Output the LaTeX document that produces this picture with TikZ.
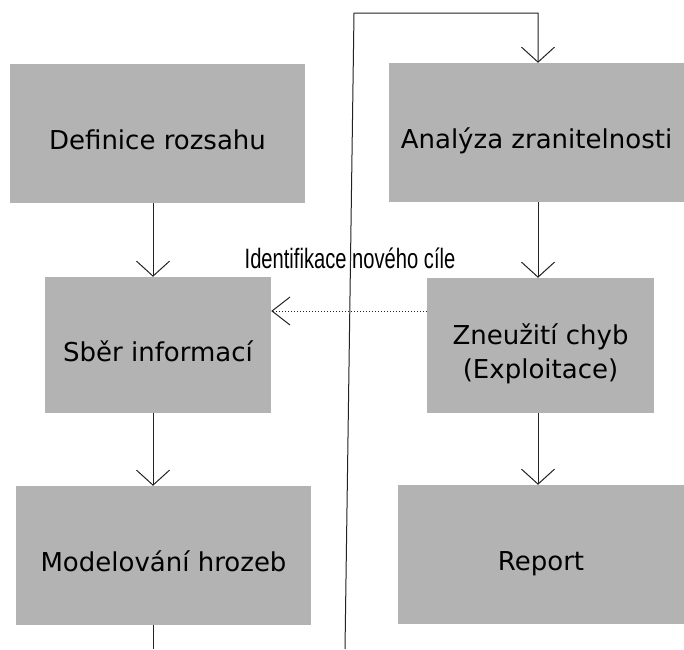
\documentclass[tikz,border=0pt]{standalone}
\usepackage{fontspec}
\setmainfont{DejaVu Sans}
\newfontfamily\narrowfont[FakeStretch=0.72]{Liberation Sans}
\definecolor{PTGray}{HTML}{B3B3B3}
\definecolor{PTLine}{HTML}{222222}
\usetikzlibrary{arrows.meta}

\begin{document}
\begin{tikzpicture}[x=1pt, y=-1pt,
    phase/.style={fill=PTGray, inner sep=0pt, align=center,
      font=\fontsize{26}{34}\selectfont, text height=32pt, text depth=0pt},
    flow/.style={draw=PTLine, line width=1pt,
      -{Straight Barb[length=15pt, width=33pt, line width=1pt]}},
    back/.style={flow, dotted,
      -{Straight Barb[length=18pt, width=28pt, line width=1pt]}}]
  \useasboundingbox (0,0) rectangle (684,649);

  % left column
  \node[phase, minimum width=295pt, minimum height=139pt] (def) at (157.5,133.5) {Definice rozsahu};
  \node[phase, minimum width=226pt, minimum height=136pt] (sber) at (158,345) {Sběr informací};
  \node[phase, minimum width=295pt, minimum height=139pt] (model) at (163.5,555.5) {Modelování hrozeb};

  % right column
  \node[phase, minimum width=295pt, minimum height=139pt] (ana) at (536.5,132.5) {Analýza zranitelnosti};
  \node[phase, minimum width=227pt, minimum height=135pt, text height=66pt] (zneu) at (540.5,345.5) {Zneužití chyb\\(Exploitace)};
  \node[phase, minimum width=286pt, minimum height=139pt] (report) at (541,554.5) {Report};

  \node[font=\narrowfont\fontsize{28}{30}\selectfont, inner sep=0pt] (novy) at (350,258) {Identifikace nového cíle};

  \coordinate (lcol) at (153,0);
  \coordinate (rcol) at (538,0);
  \coordinate (dotrow) at (0,311);
  \coordinate (leftend) at (153,649);
  \coordinate (loopstart) at (345,649);
  \coordinate (looptop) at (354,13);

  \draw[flow] (def.south -| lcol) -- (sber.north -| lcol);
  \draw[flow] (sber.south -| lcol) -- (model.north -| lcol);
  \draw[draw=PTLine, line width=1pt] (model.south -| lcol) -- (leftend);
  \draw[flow] (loopstart) -- (looptop) -| (ana.north -| rcol);
  \draw[flow] (ana.south -| rcol) -- (zneu.north -| rcol);
  \draw[flow] (zneu.south -| rcol) -- (report.north -| rcol);
  \draw[back] (zneu.west |- dotrow) -- (sber.east |- dotrow);
\end{tikzpicture}
\end{document}
